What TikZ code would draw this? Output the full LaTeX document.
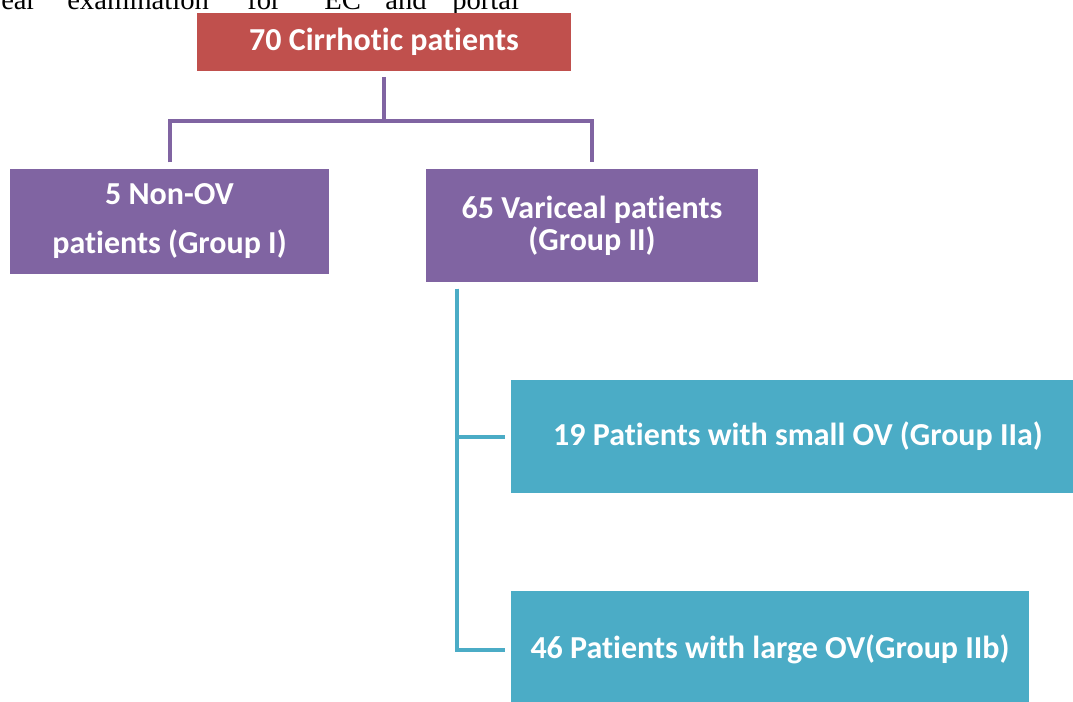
\documentclass[tikz,border=0pt]{standalone}
\usepackage{fontspec}
\setmainfont{Carlito}[Ligatures=NoCommon]
\newfontfamily\serifword{Liberation Serif}
\definecolor{cred}{HTML}{C0504D}
\definecolor{cpurple}{HTML}{8064A2}
\definecolor{cteal}{HTML}{4BACC6}
\begin{document}
\begin{tikzpicture}[x=0.75pt,y=-0.75pt,
  box/.style={inner sep=0pt, outer sep=0pt, align=center, text=white,
    font=\fontsize{24}{24}\selectfont\bfseries},
  word/.style={anchor=base west, inner sep=0pt, font=\serifword\fontsize{21.5}{24}\selectfont},
  pline/.style={draw=cpurple, line width=3pt},
  tline/.style={draw=cteal, line width=3pt}]
\useasboundingbox (0,0) rectangle (1073,702);
\clip (0,0) rectangle (1073,702);
% cut-off text line at the top
\node[word] (w1) at (1,10) {ear};
\node[word] (w2) at (67,10) {examination};
\node[word] (w3) at (247,10) {for};
\node[word] (w4) at (324,10) {EC};
\node[word] (w5) at (385,10) {and};
\node[word] (w6) at (452,10) {portal};
% boxes
\node[box, fill=cred, minimum width=280.5pt, minimum height=43.5pt] (top) at (384,42) {70 Cirrhotic patients};
\node[box, fill=cpurple, minimum width=239.25pt, minimum height=78.75pt] (g1) at (169.5,221.5) {5 Non-OV\\[12.75pt]patients (Group I)};
\node[box, fill=cpurple, minimum width=249pt, minimum height=84.75pt] (g2) at (592,225.5) {65 Variceal patients\\(Group II)};
\node[box, fill=cteal, minimum width=430.5pt, minimum height=84.75pt] (g2a) at (798,436.5) {19 Patients with small OV (Group IIa)};
\node[box, fill=cteal, minimum width=388.5pt, minimum height=87.75pt] (g2b) at (770,649.5) {46 Patients with large OV(Group IIb)};
% purple connectors
\coordinate (j) at (384,121);
\draw[pline, shorten <=4.5pt] (top.south) -- (j);
\draw[pline, shorten <=5pt, shorten >=5pt] (g1.north) |- (j) -| (g2.north);
% teal connectors
\coordinate (tv) at (457,282);
\draw[tline, shorten <=5pt, shorten >=4.5pt] (tv) |- (g2a.west);
\draw[tline, shorten <=5pt, shorten >=4.5pt] (tv) |- ([yshift=-0.5pt]g2b.west);
\end{tikzpicture}
\end{document}
